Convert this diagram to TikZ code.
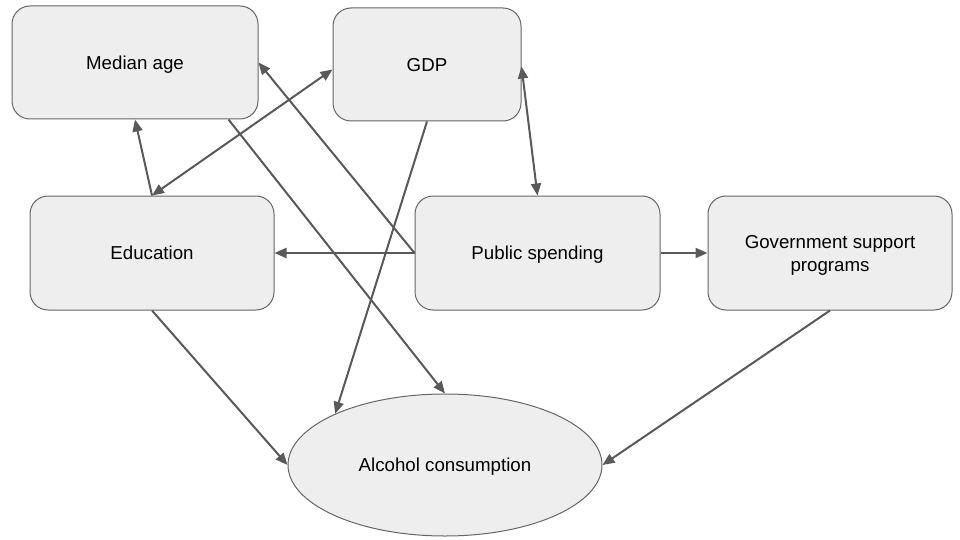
\documentclass[tikz,border=0pt]{standalone}
\usepackage{fontspec}
\setmainfont{Liberation Sans}
\usetikzlibrary{arrows.meta,shapes.geometric}
\definecolor{boxfill}{HTML}{EEEEEE}
\definecolor{boxline}{HTML}{666666}
\definecolor{arrowcol}{HTML}{595959}
\tikzset{
  box/.style={draw=boxline, line width=1pt, fill=boxfill, rounded corners=18pt,
    minimum width=#1, inner sep=0pt, align=center, text depth=0pt,
    font=\fontsize{18.7}{23}\selectfont},
  oval/.style={draw=boxline, line width=1pt, fill=boxfill, ellipse,
    minimum width=314pt, minimum height=142pt, inner sep=0pt, text depth=0pt,
    font=\fontsize{18.7}{23}\selectfont},
  conn/.style={draw=arrowcol, line width=2pt, -{Triangle[length=12pt,width=10pt]}},
  dconn/.style={draw=arrowcol, line width=2pt, {Triangle[length=12pt,width=10pt]}-{Triangle[length=12pt,width=10pt]}}
}
\begin{document}
\begin{tikzpicture}[x=1pt,y=-1pt]
\useasboundingbox (0,0) rectangle (960,540);
\node[box=246pt, minimum height=113pt] (med) at (135,62.5) {Median age};
\node[box=188pt, minimum height=113pt] (gdp) at (427,64.5) {GDP};
\node[box=244pt, minimum height=114pt] (edu) at (152,253) {Education};
\node[box=245pt, minimum height=114pt] (ps) at (537.5,253) {Public spending};
\node[box=244pt, minimum height=114pt] (gov) at (830,253) {Government support\\programs};
\node[oval] (alc) at (445,465) {Alcohol consumption};

\draw[conn] (edu.north) -- (med.south);
\draw[dconn] (edu.north) -- ([yshift=-5pt]gdp.west);
\draw[dconn] ([yshift=-2pt]gdp.east) -- (ps.north);
\draw[conn] (ps.west) -- (med.east);
\draw[conn] (ps.west) -- (edu.east);
\draw[conn] (ps.east) -- (gov.west);
\draw[conn] ([xshift=-30pt]med.south east) -- (alc.north);
\draw[conn] (gdp.south) -- (alc.155);
\draw[conn] (edu.south) -- (alc.west);
\draw[conn] (gov.south) -- (alc.east);
\end{tikzpicture}
\end{document}
